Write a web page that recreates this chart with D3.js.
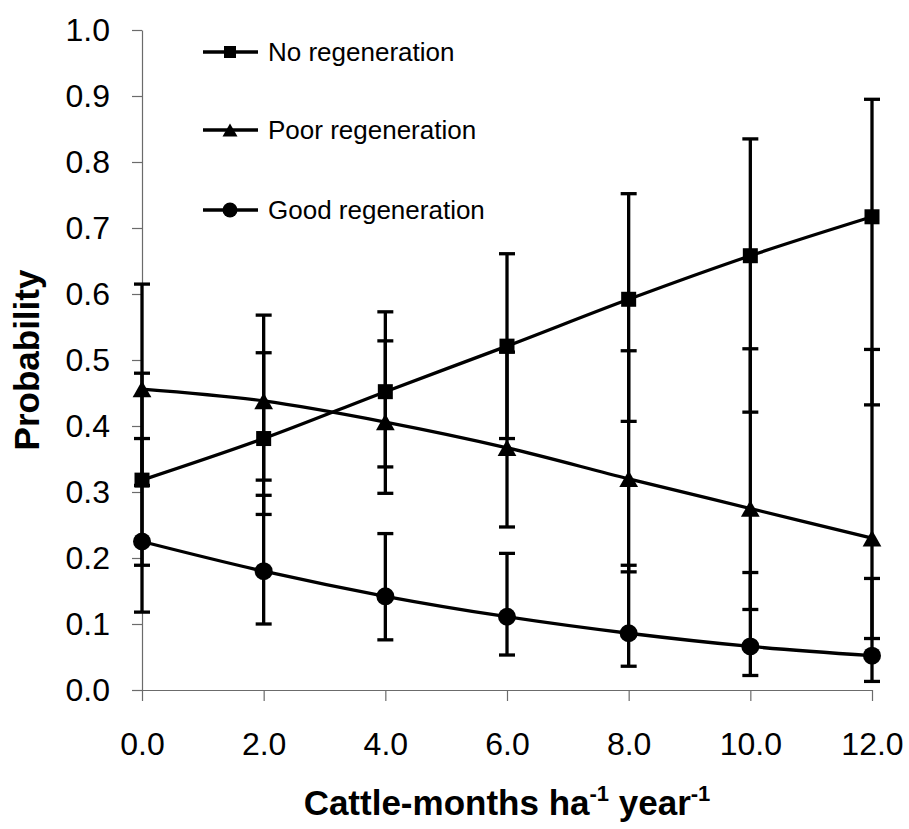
<!DOCTYPE html>
<html lang="en">
<head>
  <meta charset="utf-8">
  <title>Regeneration probability vs stocking rate</title>
  <style>
    body { margin: 0; background: #fff; }
    svg { font-family: "Liberation Sans", Arial, sans-serif; }
  </style>
</head>
<body>
  <div id="chart"></div>

  <script src="https://d3js.org/d3.v7.min.js"></script>
  <script>
// stocking rate (cattle-months per ha per year)
const stocking = [0, 2, 4, 6, 8, 10, 12];

const noRegen   = [0.318, 0.381, 0.452, 0.521, 0.592, 0.658, 0.717];
const noRegenLo = [0.189, 0.266, 0.338, 0.381, 0.407, 0.421, 0.432];
const noRegenHi = [0.480, 0.511, 0.573, 0.661, 0.752, 0.835, 0.895];

const poorRegen   = [0.456, 0.438, 0.406, 0.367, 0.320, 0.275, 0.230];
const poorRegenLo = [0.310, 0.318, 0.298, 0.247, 0.179, 0.122, 0.078];
const poorRegenHi = [0.615, 0.568, 0.529, 0.512, 0.514, 0.517, 0.516];

const goodRegen   = [0.225, 0.180, 0.142, 0.111, 0.086, 0.066, 0.052];
const goodRegenLo = [0.118, 0.100, 0.076, 0.053, 0.036, 0.022, 0.013];
const goodRegenHi = [0.381, 0.295, 0.237, 0.207, 0.189, 0.178, 0.169];

const seriesNames = ["No regeneration", "Poor regeneration", "Good regeneration"];
const yTicks = [0, 0.1, 0.2, 0.3, 0.4, 0.5, 0.6, 0.7, 0.8, 0.9, 1.0];
const xTicks = [0, 2, 4, 6, 8, 10, 12];

const series = [
  { name: seriesNames[0], shape: "square",   mid: noRegen,   lo: noRegenLo,   hi: noRegenHi },
  { name: seriesNames[1], shape: "triangle", mid: poorRegen, lo: poorRegenLo, hi: poorRegenHi },
  { name: seriesNames[2], shape: "circle",   mid: goodRegen, lo: goodRegenLo, hi: goodRegenHi }
];

const width = 909, height = 829;
const x = d3.scaleLinear().domain([0, 12]).range([142, 872]);
const y = d3.scaleLinear().domain([0, 1]).range([690, 30]);

const svg = d3.select("#chart").append("svg")
    .attr("width", width)
    .attr("height", height);

// axes
const axisColor = "#6b6b6b";

const gy = svg.append("g")
    .attr("transform", `translate(${x(0)},0)`)
    .call(d3.axisLeft(y).tickValues(yTicks).tickFormat(d3.format(".1f"))
        .tickSize(10).tickSizeOuter(0).tickPadding(22));

const gx = svg.append("g")
    .attr("transform", `translate(0,${y(0)})`)
    .call(d3.axisBottom(x).tickValues(xTicks).tickFormat(d3.format(".1f"))
        .tickSize(11).tickSizeOuter(0).tickPadding(31));

[gx, gy].forEach(g => {
  g.selectAll("path.domain").attr("stroke", axisColor).attr("stroke-width", 1.2);
  g.selectAll(".tick line").attr("stroke", axisColor).attr("stroke-width", 1.2);
  g.selectAll(".tick text")
      .attr("fill", "#000")
      .style("font-size", "32px")
      .style("font-family", "'Liberation Sans', Arial, sans-serif");
});

// axis titles
svg.append("text")
    .attr("transform", `translate(39,${(y(0) + y(1)) / 2}) rotate(-90)`)
    .attr("text-anchor", "middle")
    .style("font-size", "35px")
    .style("font-weight", "bold")
    .text("Probability");

const xt = svg.append("text")
    .attr("x", (x(0) + x(12)) / 2)
    .attr("y", 815)
    .attr("text-anchor", "middle")
    .style("font-size", "35px")
    .style("font-weight", "bold");
xt.append("tspan").text("Cattle-months ha");
xt.append("tspan").attr("dy", -14).style("font-size", "22px").text("-1");
xt.append("tspan").attr("dy", 14).text(" year");
xt.append("tspan").attr("dy", -14).style("font-size", "22px").text("-1");

// marker drawing
function drawMarker(g, shape, cx, cy, s) {
  if (shape === "square") {
    g.append("rect")
        .attr("x", cx - s / 2).attr("y", cy - s / 2)
        .attr("width", s).attr("height", s)
        .attr("fill", "#000");
  } else if (shape === "triangle") {
    const w = s * 1.25, h = s * 1.1;
    g.append("path")
        .attr("d", `M${cx},${cy - h / 2}L${cx + w / 2},${cy + h / 2}L${cx - w / 2},${cy + h / 2}Z`)
        .attr("fill", "#000");
  } else {
    g.append("circle")
        .attr("cx", cx).attr("cy", cy).attr("r", s / 2 + 1.5)
        .attr("fill", "#000");
  }
}

const line = d3.line()
    .x((d, i) => x(stocking[i]))
    .y(d => y(d))
    .curve(d3.curveCardinal.tension(0));

const plot = svg.append("g");

// series lines
series.forEach(s => {
  plot.append("path")
      .attr("d", line(s.mid))
      .attr("fill", "none")
      .attr("stroke", "#000")
      .attr("stroke-width", 3.3);
});

// error bars
series.forEach(s => {
  const eb = plot.append("g").attr("stroke", "#000").attr("stroke-width", 3.3);
  stocking.forEach((v, i) => {
    const cx = x(v);
    eb.append("line")
        .attr("x1", cx).attr("x2", cx)
        .attr("y1", y(s.lo[i])).attr("y2", y(s.hi[i]));
    [s.lo[i], s.hi[i]].forEach(c => {
      eb.append("line")
          .attr("x1", cx - 8).attr("x2", cx + 8)
          .attr("y1", y(c)).attr("y2", y(c));
    });
  });
});

// markers
series.forEach(s => {
  const mg = plot.append("g");
  stocking.forEach((v, i) => drawMarker(mg, s.shape, x(v), y(s.mid[i]), 15));
});

// legend
const legend = svg.append("g");
const legendRows = [52, 130, 210];
series.forEach((s, i) => {
  const ly = legendRows[i];
  legend.append("line")
      .attr("x1", 203).attr("x2", 258)
      .attr("y1", ly).attr("y2", ly)
      .attr("stroke", "#000").attr("stroke-width", 3.3);
  drawMarker(legend, s.shape, 230, ly, 12);
  legend.append("text")
      .attr("x", 268).attr("y", ly)
      .attr("dy", "0.35em")
      .style("font-size", "26px")
      .text(s.name);
});
  </script>
</body>
</html>
